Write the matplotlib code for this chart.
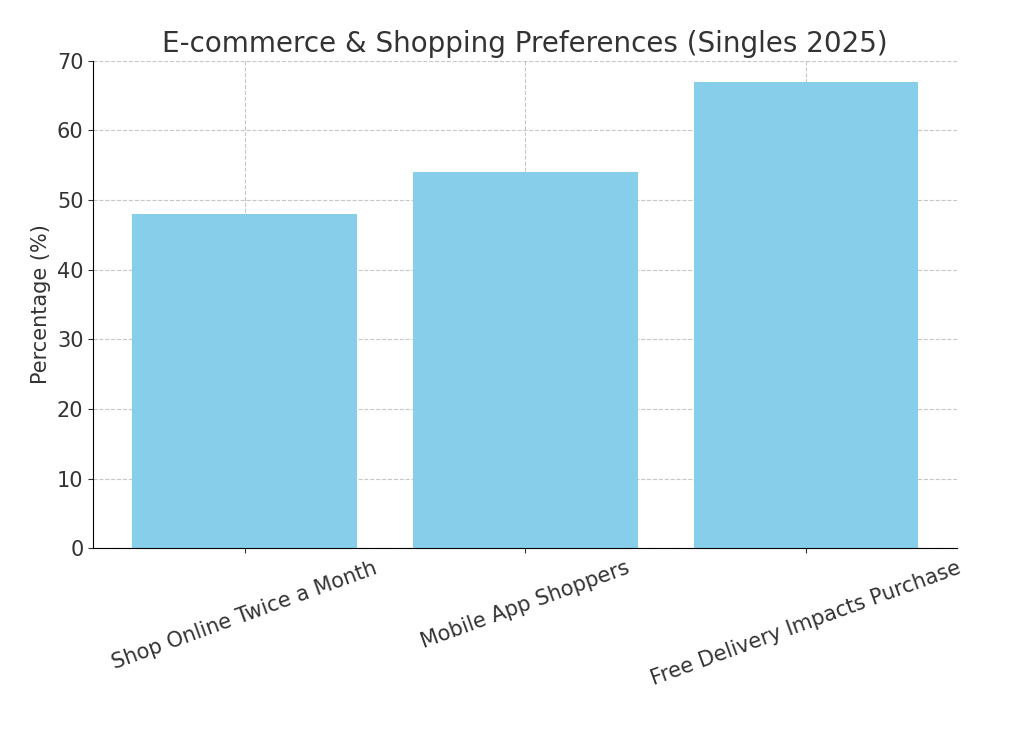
import matplotlib
matplotlib.use("Agg")
import matplotlib.pyplot as plt

categories = ["Shop Online Twice a Month", "Mobile App Shoppers", "Free Delivery Impacts Purchase"]
values = [48, 54, 67]

plt.rcParams['text.color'] = '#333333'
plt.rcParams['axes.labelcolor'] = '#333333'
plt.rcParams['xtick.color'] = '#333333'
plt.rcParams['ytick.color'] = '#333333'

fig = plt.figure(figsize=(10.24, 7.31), dpi=100)
ax = fig.add_axes([0.091, 0.250, 0.844, 0.667])
ax.bar(categories, values, color='skyblue', width=0.8, zorder=2)
ax.set_ylim(0, 70)
ax.set_ylabel("Percentage (%)", fontsize=15)
ax.set_title("E-commerce & Shopping Preferences (Singles 2025)", fontsize=20)
ax.grid(True, linestyle='--', alpha=0.7, zorder=0)
ax.tick_params(axis='both', labelsize=15)
plt.setp(ax.get_xticklabels(), rotation=20, ha='center')
for s in ['top', 'right']:
    ax.spines[s].set_visible(False)
fig.savefig("out.png", dpi=100)
